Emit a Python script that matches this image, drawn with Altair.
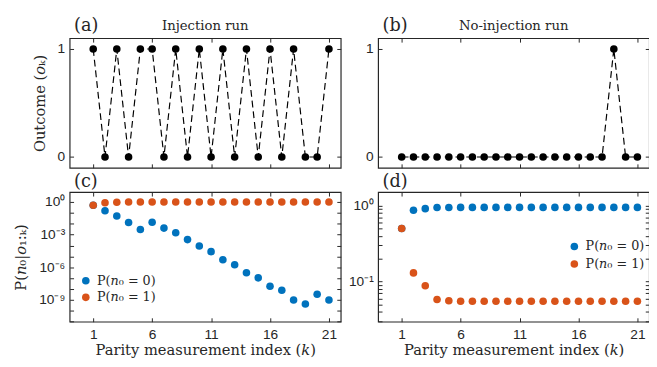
import altair as alt
import pandas as pd

# ---------------- data ----------------
k = list(range(1, 22))
outcome_injection = [1, 0, 1, 0, 1, 1, 0, 1, 0, 1, 0, 1, 0, 1, 0, 1, 0, 1, 0, 0, 1]
outcome_no_injection = [0, 0, 0, 0, 0, 0, 0, 0, 0, 0, 0, 0, 0, 0, 0, 0, 0, 0, 1, 0, 0]

p0_injection = [0.5, 0.155, 0.051, 0.0129, 0.003, 0.0138, 0.004, 0.0015, 3.5e-4, 8.9e-5,
                2.75e-5, 4.9e-6, 1.7e-6, 3.1e-7, 1.07e-7, 1.8e-8, 7.9e-9, 1.0e-9, 4.3e-10,
                3.4e-9, 1.0e-9]
p1_injection = [0.5, 0.845, 0.949, 0.987, 0.997, 0.986, 0.996, 0.9985, 0.9996, 0.9999,
                1.0, 1.0, 1.0, 1.0, 1.0, 1.0, 1.0, 1.0, 1.0, 1.0, 1.0]
p0_no_injection = [0.5, 0.865, 0.91, 0.942, 0.944, 0.945, 0.945, 0.945, 0.945, 0.945,
                   0.945, 0.945, 0.945, 0.945, 0.945, 0.945, 0.945, 0.945, 0.945, 0.945, 0.945]
p1_no_injection = [0.5, 0.13, 0.088, 0.058, 0.056, 0.055, 0.055, 0.055, 0.055, 0.055,
                   0.055, 0.055, 0.055, 0.055, 0.055, 0.055, 0.055, 0.055, 0.055, 0.055, 0.055]

series = ["P(\U0001D45B\u2080 = 0)", "P(\U0001D45B\u2080 = 1)"]
x_ticks = [1, 6, 11, 16, 21]
c_ticks = [1e-11, 1e-10, 1e-9, 1e-8, 1e-7, 1e-6, 1e-5, 1e-4, 1e-3, 1e-2, 1e-1, 1.0]
d_ticks = [0.03, 0.04, 0.05, 0.06, 0.07, 0.08, 0.09, 0.1, 0.2, 0.3, 0.4, 0.5, 0.6,
           0.7, 0.8, 0.9, 1.0]

# ---------------- style ----------------
SANS = "Liberation Sans"
SERIF = "DejaVu Serif"
AX = "#262626"
BLUE = "#0072BD"
ORANGE = "#D95319"
W, H = 277, 132.4
TS = 4
LBL = 14

xs = alt.Scale(domain=[-1, 22], nice=False, zero=False)


def x_axis(orient="bottom", labels=False, title=None):
    return alt.Axis(orient=orient, values=x_ticks, domain=False, grid=False,
                    tickSize=TS, offset=-TS, tickColor=AX, tickWidth=1,
                    labels=labels, labelFont=SANS, labelFontSize=LBL, labelColor=AX,
                    labelPadding=6, title=title, titleFont=SERIF, titleFontSize=15,
                    titleFontWeight="normal", titleColor=AX, titlePadding=2)


def y_axis(values, orient="left", labels=True, title=None, label_expr=None,
           title_x=None, fmt=None):
    kw = dict(orient=orient, values=values, domain=False, grid=False,
              tickSize=TS, offset=-TS, tickColor=AX, tickWidth=1,
              labels=labels, labelFont=SANS, labelFontSize=LBL, labelColor=AX,
              labelPadding=5, title=title, titleFont=SERIF, titleFontSize=15,
              titleFontWeight="normal", titleColor=AX)
    if title_x is not None:
        kw.update(titleX=title_x, titleY=H / 2, titleAngle=270,
                  titleBaseline="middle", titleAlign="center")
    if label_expr is not None:
        kw["labelExpr"] = label_expr
    if fmt is not None:
        kw["format"] = fmt
    return alt.Axis(**kw)


def text_layer(text, x, y, size, align):
    return alt.Chart(alt.Data(values=[{}])).mark_text(
        font=SERIF, fontSize=size, color=AX, align=align, baseline="alphabetic"
    ).encode(x=alt.value(x), y=alt.value(y), text=alt.value(text))


def outcome_panel(values, label, title, ytitle):
    df = pd.DataFrame({"k": k, "o": values})
    ys = alt.Scale(domain=[-0.1, 1.1], nice=False, zero=False)
    base = alt.Chart(df)
    line = base.mark_line(color="black", strokeDash=[7, 4], strokeWidth=1.2).encode(
        x=alt.X("k:Q", scale=xs, axis=x_axis()),
        y=alt.Y("o:Q", scale=ys, axis=y_axis([0, 1], title=ytitle, title_x=-34.5,
                                              fmt="d")),
    )
    pts = base.mark_circle(color="black", size=60, opacity=1).encode(
        x=alt.X("k:Q", axis=None), y=alt.Y("o:Q", axis=None)
    )
    mirror = base.mark_point(opacity=0).encode(
        x=alt.X("k:Q", axis=x_axis(orient="top")),
        y=alt.Y("o:Q", axis=y_axis([0, 1], orient="right", labels=False)),
    )
    return alt.layer(
        line, pts, mirror,
        text_layer(label, 4.5, -7.5, 18, "left"),
        text_layer(title, W / 2, -8.5, 13.5, "center"),
    ).resolve_axis(x="independent", y="independent").properties(width=W, height=H)


def prob_panel(p0, p1, label, ydomain, yticks, label_expr, ytitle, xtitle,
               legend_x, legend_y, row_pad):
    df = pd.DataFrame({
        "k": k + k,
        "p": p0 + p1,
        "s": [series[0]] * len(k) + [series[1]] * len(k),
    })
    ys = alt.Scale(type="log", domain=ydomain, nice=False)
    base = alt.Chart(df)
    pts = base.mark_circle(size=60, opacity=1).encode(
        x=alt.X("k:Q", scale=xs, axis=x_axis(labels=True, title=xtitle)),
        y=alt.Y("p:Q", scale=ys, axis=y_axis(yticks, title=ytitle,
                                              label_expr=label_expr, title_x=-54)),
        color=alt.Color("s:N", scale=alt.Scale(domain=series, range=[BLUE, ORANGE]),
                        legend=alt.Legend(orient="none", legendX=legend_x,
                                          legendY=legend_y, title=None,
                                          labelFont=SERIF, labelFontSize=13,
                                          labelColor=AX, symbolType="circle",
                                          symbolSize=60, symbolStrokeWidth=0,
                                          rowPadding=row_pad, padding=0,
                                          labelOffset=5)),
        order=alt.Order("s:N"),
    )
    mirror = base.mark_point(opacity=0).encode(
        x=alt.X("k:Q", axis=x_axis(orient="top")),
        y=alt.Y("p:Q", axis=y_axis(yticks, orient="right", labels=False)),
    )
    return alt.layer(
        pts, mirror, text_layer(label, 4.5, -5, 18, "left")
    ).resolve_axis(x="independent", y="independent").properties(width=W, height=H)


E = "(log(datum.value)/LN10)"


def is_exp(n):
    return f"abs({E} - ({n})) < 0.01"


c_expr = (f"{is_exp(0)} ? '10\u2070' : {is_exp(-3)} ? '10\u207B\u00B3' : "
          f"{is_exp(-6)} ? '10\u207B\u2076' : {is_exp(-9)} ? '10\u207B\u2079' : ''")
d_expr = f"{is_exp(0)} ? '10\u2070' : {is_exp(-1)} ? '10\u207B\u00B9' : ''"

xtitle = "Parity measurement index (\U0001D458)"

pa = outcome_panel(outcome_injection, "(a)", "Injection run",
                   "Outcome (\U0001D45C\u2096)")
pb = outcome_panel(outcome_no_injection, "(b)", "No-injection run", None)
pc = prob_panel(p0_injection, p1_injection, "(c)", [1e-11, 8], c_ticks, c_expr,
                "P(\U0001D45B\u2080|\U0001D45C\u2081:\u2096)", xtitle, 10, 84, 3)
pd_ = prob_panel(p0_no_injection, p1_no_injection, "(d)", [0.0296, 1.5], d_ticks,
                 d_expr, None, xtitle, 194, 49, 4)

chart = alt.concat(
    pa, pb, pc, pd_, columns=2,
    spacing={"row": 24.3, "column": 38.2}, bounds="flush",
).resolve_scale(color="independent").configure_view(
    stroke=AX, strokeWidth=1.2
).properties(
    padding={"left": 5, "top": 4, "right": -2, "bottom": 0},
    background="white",
)

chart.save("out.html", embed_options={"renderer": "svg", "actions": False})
